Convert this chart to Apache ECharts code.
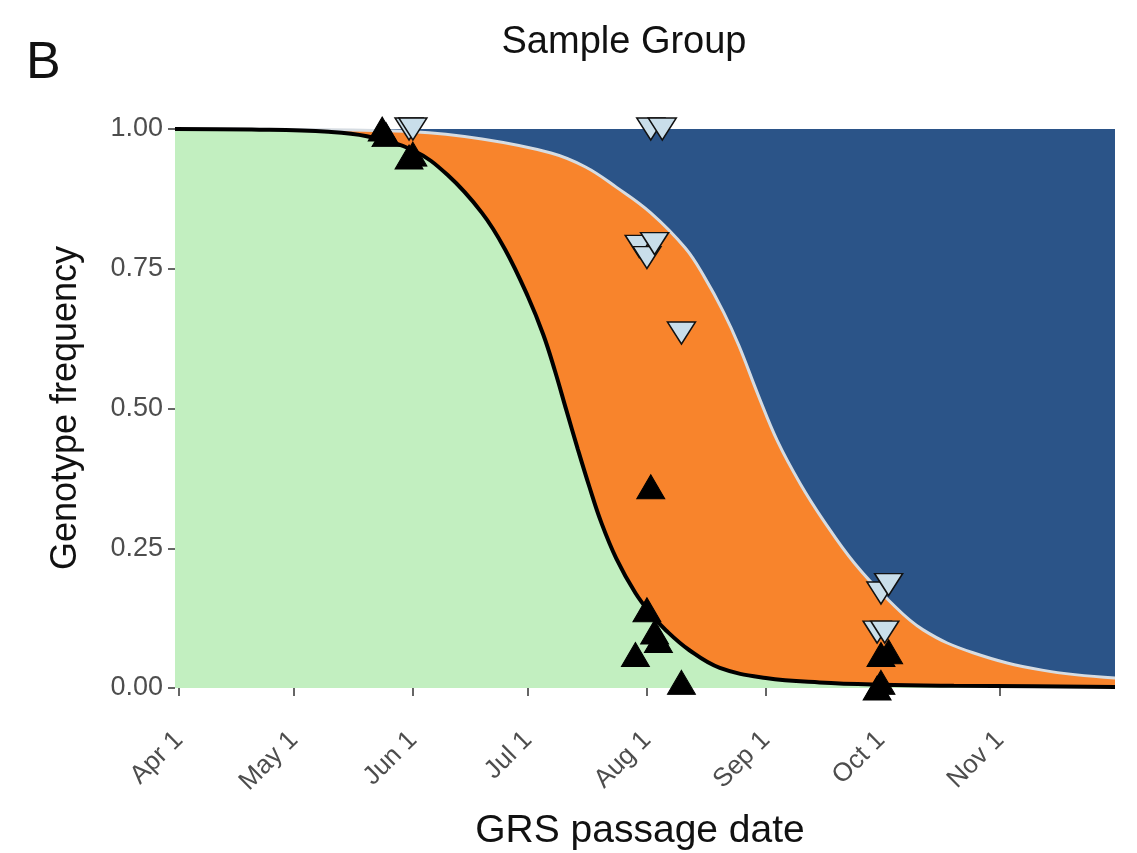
<!DOCTYPE html>
<html>
<head>
<meta charset="utf-8">
<script src="https://cdn.jsdelivr.net/npm/echarts@6/dist/echarts.min.js"></script>
<style>
html,body{margin:0;padding:0;background:#fff;}
#chart{width:1137px;height:853px;}
</style>
</head>
<body>
<div id="chart"></div>
<script>
// ---- data ----
const xMin = '2019-03-31';
const xMax = '2019-12-01';
const tickDates = ['2019-04-01','2019-05-01','2019-06-01','2019-07-01','2019-08-01','2019-09-01','2019-10-01','2019-11-01'];
const tickLabels = ['Apr 1','May 1','Jun 1','Jul 1','Aug 1','Sep 1','Oct 1','Nov 1'];
const yTicks = [0, 0.25, 0.5, 0.75, 1];

// fitted curve: boundary between green (below) and orange
const lowerCurveDates = ['2019-03-31','2019-04-20','2019-05-10','2019-05-20','2019-06-01','2019-06-10','2019-06-19','2019-06-25','2019-07-01','2019-07-05','2019-07-08','2019-07-11','2019-07-14','2019-07-17','2019-07-20','2019-07-24','2019-07-29','2019-08-02','2019-08-06','2019-08-12','2019-08-20','2019-09-01','2019-09-15','2019-10-01','2019-10-20','2019-11-10','2019-12-01'];
const lowerCurveVals  = [1.000,0.999,0.995,0.987,0.962,0.918,0.850,0.785,0.700,0.632,0.568,0.497,0.427,0.360,0.298,0.232,0.170,0.133,0.103,0.068,0.036,0.018,0.010,0.006,0.004,0.003,0.002];

// fitted curve: boundary between orange (below) and blue (above)
const upperCurveDates = ['2019-03-31','2019-05-01','2019-06-01','2019-06-19','2019-07-07','2019-07-16','2019-07-24','2019-08-02','2019-08-11','2019-08-16','2019-08-21','2019-08-25','2019-08-30','2019-09-04','2019-09-10','2019-09-16','2019-09-24','2019-10-03','2019-10-12','2019-10-25','2019-11-12','2019-12-01'];
const upperCurveVals  = [1.000,0.999,0.995,0.982,0.957,0.932,0.896,0.850,0.787,0.735,0.672,0.612,0.524,0.442,0.365,0.300,0.224,0.157,0.104,0.063,0.032,0.018];

// observed samples (black up-triangles)
const upDates = ['2019-05-24','2019-05-25','2019-05-31','2019-06-01','2019-07-29','2019-08-01','2019-08-02','2019-08-03','2019-08-04','2019-08-10','2019-09-30','2019-10-01','2019-10-01','2019-10-03'];
const upVals  = [1.00,0.99,0.95,0.955,0.06,0.14,0.36,0.10,0.085,0.01,0.00,0.06,0.01,0.065];

// observed samples (light down-triangles)
const downDates = ['2019-05-31','2019-06-01','2019-07-30','2019-08-01','2019-08-03','2019-08-02','2019-08-05','2019-08-10','2019-09-30','2019-10-02','2019-10-01','2019-10-03'];
const downVals  = [1.00,1.00,0.79,0.77,0.795,1.00,1.00,0.635,0.10,0.10,0.17,0.185];

// ---- build chart ----
function ts(s){ const p = s.split('-'); return Date.UTC(+p[0], +p[1]-1, +p[2]); }
function pairs(d, v){ return d.map((x,i)=>[ts(x), v[i]]); }
const tickTs = tickDates.map(ts);
const labelMap = {}; tickTs.forEach((t,i)=>labelMap[t]=tickLabels[i]);

const FONT = '"Liberation Sans", Arial, Helvetica, sans-serif';
const chart = echarts.init(document.getElementById('chart'));
chart.setOption({
  backgroundColor: '#fff',
  animation: false,
  grid: { left: 175, right: 22, top: 129, bottom: 165, show: true, backgroundColor: '#2b5488', borderWidth: 0 },
  xAxis: {
    type: 'value', min: ts(xMin), max: ts(xMax), offset: 26,
    axisLine: { show: false },
    splitLine: { show: false },
    axisTick: { show: true, length: 8, lineStyle: { color: '#333', width: 1.5 }, customValues: tickTs },
    axisLabel: { show: true, rotate: 45, margin: 22, fontSize: 26, color: '#4d4d4d', fontFamily: FONT,
      customValues: tickTs, formatter: v => labelMap[v] || '' }
  },
  yAxis: {
    type: 'value', min: 0, max: 1, interval: 0.25,
    axisLine: { show: false },
    splitLine: { show: false },
    axisTick: { show: true, length: 7, lineStyle: { color: '#333', width: 1.5 } },
    axisLabel: { margin: 12, fontSize: 27, color: '#4d4d4d', fontFamily: FONT, formatter: v => v.toFixed(2) }
  },
  graphic: [
    { type: 'text', left: 26, top: 38, style: { text: 'B', font: '52px ' + FONT, fill: '#111' } },
    { type: 'text', x: 624, y: 24, style: { text: 'Sample Group', font: '38px ' + FONT, fill: '#111', align: 'center', verticalAlign: 'top' } },
    { type: 'text', x: 640, y: 812, style: { text: 'GRS passage date', font: '39px ' + FONT, fill: '#111', align: 'center', verticalAlign: 'top' } },
    { type: 'text', x: 66, y: 408, rotation: Math.PI/2, style: { text: 'Genotype frequency', font: '36px ' + FONT, fill: '#111', align: 'center', verticalAlign: 'middle' } }
  ],
  series: [
    { type: 'line', data: pairs(upperCurveDates, upperCurveVals), smooth: 0.4, showSymbol: false,
      lineStyle: { color: '#d6dce2', width: 3 }, areaStyle: { color: '#f8842c', opacity: 1 }, z: 2 },
    { type: 'line', data: pairs(lowerCurveDates, lowerCurveVals), smooth: 0.4, showSymbol: false,
      lineStyle: { color: '#000', width: 4 }, areaStyle: { color: '#c2efc0', opacity: 1 }, z: 3 },
    { type: 'scatter', data: pairs(downDates, downVals), symbol: 'triangle', symbolRotate: 180, symbolSize: [28, 22],
      itemStyle: { color: '#c9deea', borderColor: '#111', borderWidth: 1.5, opacity: 1 }, z: 4 },
    { type: 'scatter', data: pairs(upDates, upVals), symbol: 'triangle', symbolSize: [28, 24],
      itemStyle: { color: '#000', borderColor: '#000', borderWidth: 1, opacity: 1 }, z: 5 }
  ]
});
</script>
</body>
</html>
